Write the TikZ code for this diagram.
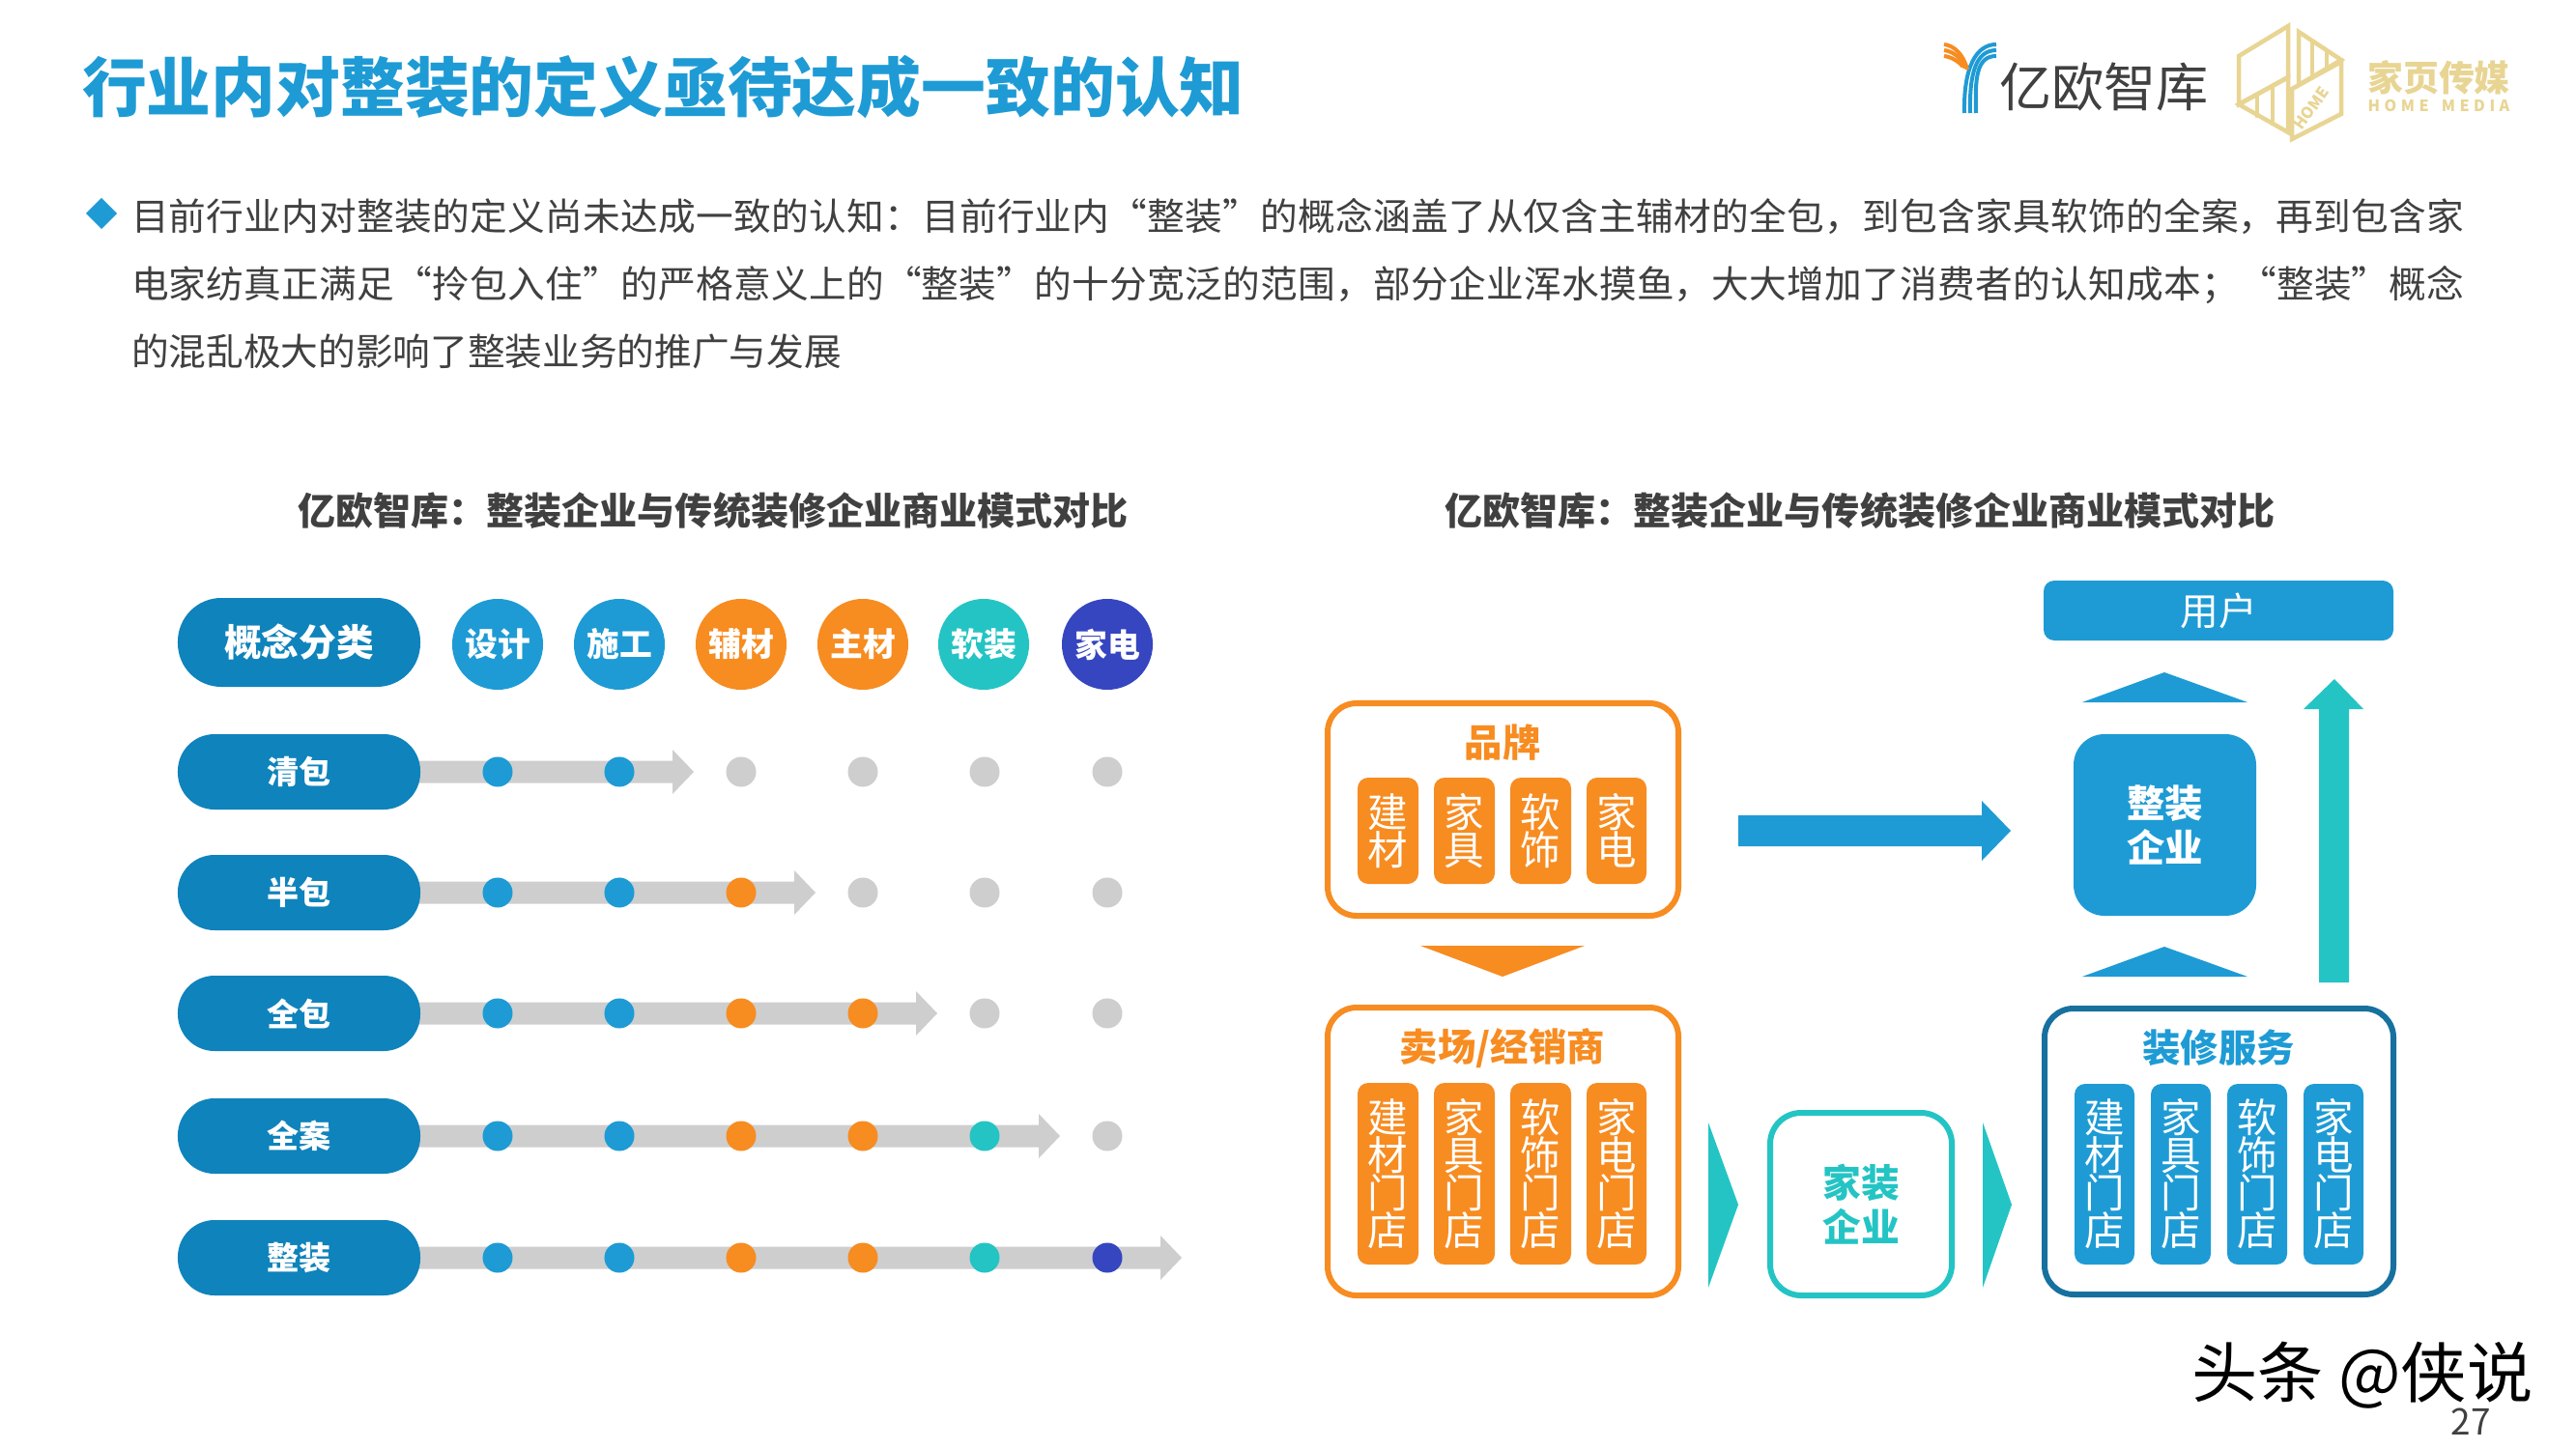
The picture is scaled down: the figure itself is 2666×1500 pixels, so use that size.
\documentclass[tikz,border=0pt]{standalone}
\usepackage{fontspec}
\setmainfont[Script=CJK]{Noto Sans CJK SC}
\XeTeXlinebreaklocale "zh"
\XeTeXlinebreakskip=0pt plus 1pt
\definecolor{cblue}{HTML}{1E9BD5}
\definecolor{cpill}{HTML}{0F83BC}
\definecolor{cdeep}{HTML}{17719F}
\definecolor{corange}{HTML}{F78C21}
\definecolor{cteal}{HTML}{24C4C4}
\definecolor{cnavy}{HTML}{3646C0}
\definecolor{cgrey}{HTML}{CECECE}
\definecolor{cgold}{HTML}{E8D593}
\definecolor{ctext}{HTML}{404040}
\newcommand{\fsz}[1]{\fontsize{#1}{#1}\selectfont}
\newcommand{\fwcolon}{\char"FF1A\relax}
\newcommand{\fwcomma}{\char"FF0C\relax}
\newcommand{\fwsemi}{\char"FF1B\relax}
\newcommand{\bx}[7]{%
  \pgfmathsetmacro{\bxw}{((#4)-(#2))*0.01}\pgfmathsetmacro{\bxh}{((#5)-(#3))*0.01}%
  \node[#6,minimum width=\bxw cm,minimum height=\bxh cm] (#1) at ({((#2)+(#4))/2},{((#3)+(#5))/2}) {#7};}
\tikzset{
  x=0.01cm,y=-0.01cm,
  every node/.style={inner sep=0pt,outer sep=0pt},
  pill/.style={fill=cpill,rounded corners=0.38cm,text=white,font=\bfseries\fsz{9.4}},
  headpill/.style={fill=cpill,rounded corners=0.45cm,text=white,font=\bfseries\fsz{11}},
  headdot/.style={circle,minimum size=0.94cm,text=white,font=\bfseries\fsz{9.6}},
  rowdot/.style={circle,minimum size=0.31cm},
  band/.style={fill=cgrey},
  heading/.style={text=ctext,font=\bfseries\fsz{11.1}},
  bodyline/.style={text=ctext,font=\fontsize{11}{19.9}\selectfont,anchor=north west,text width=24.13cm,align=justify},
  ofr/.style={draw=corange,line width=0.06cm,fill=white,rounded corners=0.3cm},
  ttl/.style={font=\bfseries\fsz{11.2},inner sep=0pt},
  vbox/.style={rounded corners=0.11cm,text=white,align=center,font=\fontsize{11.8}{11.1}\selectfont},
  ovb/.style={vbox,fill=corange},
  bvb/.style={vbox,fill=cblue},
  goldl/.style={draw=cgold,line width=0.045cm,line join=miter},
}
\begin{document}
\begin{tikzpicture}
\useasboundingbox[fill=white] (0,0) rectangle (2666,1500);
% title
\node[anchor=west,text=cblue,font=\bfseries\fsz{19}] (title) at (85,90) {行业内对整装的定义亟待达成一致的认知};
% bullet
\fill[cblue] (105,205) -- (121,221) -- (105,237) -- (89,221) -- cycle;
\node[bodyline] (body) at (136,205) {目前行业内对整装的定义尚未达成一致的认知\fwcolon 目前行业内“整装”的概念涵盖了从仅含主辅材的全包\fwcomma 到包含家具软饰的全案\fwcomma 再到包含家\linebreak 电家纺真正满足“拎包入住”的严格意义上的“整装”的十分宽泛的范围\fwcomma 部分企业浑水摸鱼\fwcomma 大大增加了消费者的认知成本\fwsemi “整装”概念\linebreak 的混乱极大的影响了整装业务的推广与发展};
% headings
\node[heading] (hl) at (738,529) {亿欧智库\fwcolon 整装企业与传统装修企业商业模式对比};
\node[heading] (hr) at (1925,529) {亿欧智库\fwcolon 整装企业与传统装修企业商业模式对比};
% left table header
\bx{hp}{184}{619}{435}{711}{headpill}{概念分类}
\node[headdot,fill=cblue] (h1) at (515,667) {设计};
\node[headdot,fill=cblue] (h2) at (641,667) {施工};
\node[headdot,fill=corange] (h3) at (767,667) {辅材};
\node[headdot,fill=corange] (h4) at (893,667) {主材};
\node[headdot,fill=cteal] (h5) at (1018,667) {软装};
\node[headdot,fill=cnavy] (h6) at (1146,667) {家电};
% rows
\foreach \r/\yy/\lab/\tip in {1/799/清包/718,2/924/半包/844,3/1049/全包/970,4/1176/全案/1097,5/1302/整装/1223}{
  \fill[band] (430,\yy-11.5) -- (\tip-22,\yy-11.5) -- (\tip-22,\yy-23) -- (\tip,\yy) -- (\tip-22,\yy+23) -- (\tip-22,\yy+11.5) -- (430,\yy+11.5) -- cycle;
  \bx{p\r}{184}{\yy-39}{435}{\yy+39}{pill}{\lab}
  \foreach \c/\xx/\col/\lim in {1/515/cblue/1,2/641/cblue/1,3/767/corange/2,4/893/corange/3,5/1019/cteal/4,6/1146/cnavy/5}{
    \ifnum\r<\lim\relax
      \node[rowdot,fill=cgrey] (d\r\c) at (\xx,\yy) {};
    \else
      \node[rowdot,fill=\col] (d\r\c) at (\xx,\yy) {};
    \fi
  }
}
% brand box
\bx{brand}{1374}{728}{1737}{948}{ofr}{}
\node[ttl,text=corange] (brandt) at (1555,769) {品牌};
\bx{b1}{1405}{805}{1468}{915}{ovb}{建\\材}
\bx{b2}{1484}{805}{1547}{915}{ovb}{家\\具}
\bx{b3}{1563}{805}{1626}{915}{ovb}{软\\饰}
\bx{b4}{1642}{805}{1704}{915}{ovb}{家\\电}
\fill[corange] (1470,979) -- (1640,979) -- (1555,1011) -- cycle;
% dealer box
\bx{deal}{1374}{1043}{1737}{1341}{ofr}{}
\node[ttl,text=corange] (dealt) at (1555,1085) {卖场/经销商};
\bx{s1}{1405}{1121}{1468}{1309}{ovb}{建\\材\\门\\店}
\bx{s2}{1484}{1121}{1547}{1309}{ovb}{家\\具\\门\\店}
\bx{s3}{1563}{1121}{1626}{1309}{ovb}{软\\饰\\门\\店}
\bx{s4}{1642}{1121}{1704}{1309}{ovb}{家\\电\\门\\店}
% blue arrow
\fill[cblue] (1799,844) -- (2051,844) -- (2051,829) -- (2081,860) -- (2051,891) -- (2051,876) -- (1799,876) -- cycle;
% teal triangles
\fill[cteal] (1768,1162) -- (1799,1247) -- (1768,1333) -- cycle;
\fill[cteal] (2052,1162) -- (2082,1247) -- (2052,1333) -- cycle;
% home company
\bx{home}{1832}{1152}{2020}{1341}{draw=cteal,line width=0.06cm,fill=white,rounded corners=0.32cm,text=cteal,align=center,font=\bfseries\fontsize{11.3}{13.2}\selectfont}{家装\\企业}
% user
\bx{user}{2115}{601}{2477}{663}{fill=cblue,rounded corners=0.11cm,text=white,font=\fsz{11.3}}{用户}
\fill[cblue] (2155,727) -- (2240,696) -- (2326,727) -- cycle;
% whole company
\bx{whole}{2146}{760}{2335}{948}{fill=cblue,rounded corners=0.32cm,text=white,align=center,font=\bfseries\fontsize{11.2}{13.2}\selectfont}{整装\\企业}
\fill[cblue] (2155,1011) -- (2240,980) -- (2326,1011) -- cycle;
% teal up arrow
\fill[cteal] (2400,1017) -- (2400,734) -- (2384,734) -- (2416,703) -- (2446,734) -- (2431,734) -- (2431,1017) -- cycle;
% decoration service
\bx{serv}{2116}{1044}{2477}{1340}{draw=cdeep,line width=0.06cm,fill=white,rounded corners=0.3cm}{}
\node[ttl,text=cblue] (servt) at (2296,1085) {装修服务};
\bx{t1}{2147}{1122}{2209}{1309}{bvb}{建\\材\\门\\店}
\bx{t2}{2226}{1122}{2288}{1309}{bvb}{家\\具\\门\\店}
\bx{t3}{2305}{1122}{2367}{1309}{bvb}{软\\饰\\门\\店}
\bx{t4}{2384}{1122}{2446}{1309}{bvb}{家\\电\\门\\店}
% watermark and page
\node[text=black,font=\fsz{19.4},anchor=center] (wm) at (2445,1424) {头条 @侠说};
\node[text=ctext,font=\fsz{10.5}] (pg) at (2557,1472) {27};
% Yiou logo
\foreach \k in {0,6,12}{
  \draw[cblue,line width=0.04cm] (2066,46+\k) .. controls (2045,46+\k) and ({2032+\k*1},70+\k) .. ({2033+\k},117);
  \draw[corange,line width=0.04cm] (2012,46+\k) .. controls (2022,47+\k) and (2032,56+\k) .. ({2036-\k*0.4},{72-\k*0.2});
}
\node[text=ctext,font=\fsz{15.4},anchor=west] (yiou) at (2069,90) {亿欧智库};
% Home Media logo
\draw[goldl] (2368,27) -- (2317,58) -- (2317,108) -- (2368,80) -- cycle;
\draw[goldl] (2317,108) -- (2368,80) -- (2368,137) -- cycle;
\draw[goldl] (2336,98) -- (2336,122) (2352,89) -- (2352,130);
\draw[goldl] (2379,33) -- (2423,62) -- (2379,88) -- cycle;
\draw[goldl] (2393,42) -- (2393,80) (2408,52) -- (2408,71);
\draw[goldl] (2372,92) -- (2423,64) -- (2423,118) -- (2372,144) -- cycle;
\node[text=cgold,font=\bfseries\fsz{4.6},rotate=55,align=center] (hmm) at (2392,112) {HOME};
\node[text=cgold,font=\bfseries\fsz{10.5},anchor=center] (jy) at (2524,80) {家页传媒};
\node[text=cgold,font=\bfseries\fsz{4.6},anchor=center] (hm) at (2524,109) {H\hspace{0.28em}O\hspace{0.28em}M\hspace{0.28em}E\hspace{0.8em}M\hspace{0.28em}E\hspace{0.28em}D\hspace{0.28em}I\hspace{0.28em}A};
\end{tikzpicture}
\end{document}
